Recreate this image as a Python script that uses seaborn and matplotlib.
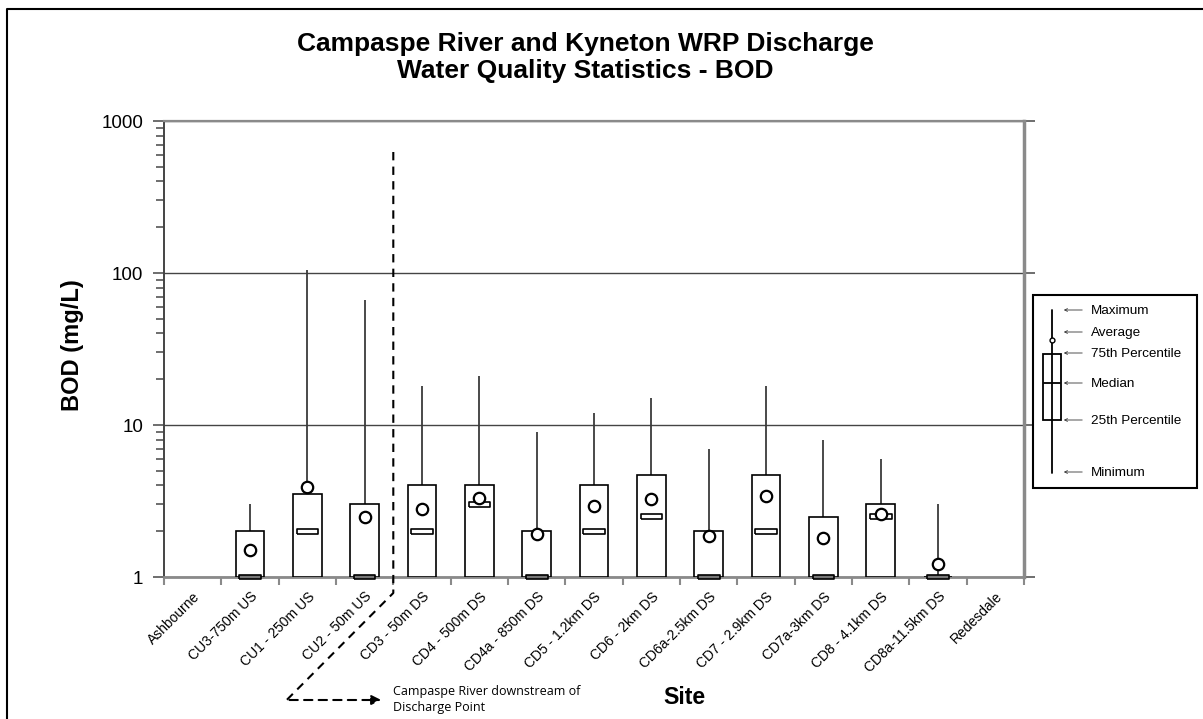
import numpy as np
import matplotlib
matplotlib.use("Agg")
import matplotlib.pyplot as plt
import matplotlib.ticker as mticker
from matplotlib.lines import Line2D
from matplotlib.patches import Rectangle, FancyArrowPatch
import seaborn as sns

# ---------------- data ----------------
sites = ["Ashbourne", "CU3-750m US", "CU1 - 250m US", "CU2 - 50m US", "CD3 - 50m DS",
         "CD4 - 500m DS", "CD4a - 850m DS", "CD5 - 1.2km DS", "CD6 - 2km DS",
         "CD6a-2.5km DS", "CD7 - 2.9km DS", "CD7a-3km DS", "CD8 - 4.1km DS",
         "CD8a-11.5km DS", "Redesdale"]
nan = np.nan
minimum = [nan, 1, 1, 1, 1, 1, 1, 1, 1, 1, 1, 1, 1, 1, nan]
q1 = [nan, 1, 1, 1, 1, 1, 1, 1, 1, 1, 1, 1, 1, 1, nan]
median = [nan, 1, 2, 1, 2, 3, 1, 2, 2.5, 1, 2, 1, 2.5, 1, nan]
q3 = [nan, 2, 3.5, 3, 4, 4, 2, 4, 4.7, 2, 4.7, 2.5, 3, 1, nan]
average = [nan, 1.5, 3.9, 2.5, 2.8, 3.3, 1.93, 2.95, 3.27, 1.87, 3.4, 1.8, 2.6, 1.22, nan]
maximum = [nan, 3, 105, 66, 18, 21, 9, 12, 15, 7, 18, 8, 6, 3, nan]
yticks = [1, 10, 100, 1000]
ytick_labels = ["1", "10", "100", "1000"]

# ---------------- style ----------------
sns.set_style("white")
plt.rcParams["font.family"] = ["Liberation Sans", "DejaVu Sans"]
plt.rcParams["text.color"] = "black"
plt.rcParams["axes.labelcolor"] = "black"
plt.rcParams["xtick.color"] = "black"
plt.rcParams["ytick.color"] = "black"

W, H = 1203, 719
fig = plt.figure(figsize=(W / 100, H / 100), dpi=100)
fig.patch.set_facecolor("white")


def fx(px):
    return px / W


def fy(py):
    return 1 - py / H


ax = fig.add_axes([fx(164), fy(577), (1024 - 164) / W, (577 - 121) / H])
ax.set_yscale("log")
ax.set_ylim(1, 1000)
ax.set_xlim(-0.5, len(sites) - 0.5)

x = np.arange(len(sites))
mn = np.array(minimum, float)
lo = np.array(q1, float)
md = np.array(median, float)
hi = np.array(q3, float)
av = np.array(average, float)
mx = np.array(maximum, float)
ok = ~np.isnan(lo)

# whiskers
ax.vlines(x[ok], hi[ok], mx[ok], color="#3a3a3a", lw=1.3, zorder=2)
ax.vlines(x[ok], mn[ok], lo[ok], color="#3a3a3a", lw=1.3, zorder=2)
# boxes
ax.bar(x[ok], hi[ok] - lo[ok], bottom=lo[ok], width=0.5, facecolor="white",
       edgecolor="black", linewidth=1.2, zorder=3)
# medians (small rectangles)
rect_marker = [(-1, -0.22), (1, -0.22), (1, 0.22), (-1, 0.22), (-1, -0.22)]
med_colors = ["#777777" if m <= l else "white" for m, l in zip(md[ok], lo[ok])]
ax.scatter(x[ok], md[ok], marker=rect_marker, s=15.6 ** 2, facecolor=med_colors,
           edgecolor="black", linewidth=1.2, zorder=4, clip_on=False)
# averages
sns.scatterplot(x=x[ok], y=av[ok], ax=ax, marker="o", s=8.2 ** 2, color="white",
                edgecolor="black", linewidth=1.6, zorder=5, legend=False, clip_on=False)

# grid & spines
ax.yaxis.grid(True, which="major", color="#444444", lw=1.0)
ax.xaxis.grid(False)
ax.set_axisbelow(True)
for s, c, w in [("left", "#444444", 1.4), ("bottom", "#8a8a8a", 2.0),
                ("right", "#8a8a8a", 2.5), ("top", "#8a8a8a", 1.6)]:
    ax.spines[s].set_visible(True)
    ax.spines[s].set_color(c)
    ax.spines[s].set_linewidth(w)

ax.yaxis.set_major_locator(mticker.FixedLocator(yticks))
ax.yaxis.set_major_formatter(mticker.FixedFormatter(ytick_labels))
ax.yaxis.set_minor_locator(mticker.LogLocator(base=10, subs=np.arange(2, 10)))
ax.yaxis.set_minor_formatter(mticker.NullFormatter())
ax.tick_params(axis="y", which="both", direction="out", length=6, width=1.2,
               color="#555555", labelcolor="black", labelsize=13.5, pad=7,
               left=True, right=False)
ax.tick_params(axis="y", which="major", right=True, length=8)

ax.set_xticks(x)
ax.set_xticklabels(sites, rotation=45, ha="right", rotation_mode="anchor", fontsize=10)
ax.set_xticks(np.arange(len(sites) + 1) - 0.5, minor=True)
ax.tick_params(axis="x", which="major", length=0, pad=9, bottom=True,
               labelcolor="black")
ax.tick_params(axis="x", which="minor", direction="out", length=6, width=1.5,
               color="#8a8a8a", bottom=True)
ax.set_xlabel("")
ax.set_ylabel("")

# titles & axis labels
fig.text(fx(585), fy(44), "Campaspe River and Kyneton WRP Discharge", ha="center",
         va="center", fontsize=19, fontweight="bold", color="black")
fig.text(fx(585), fy(71), "Water Quality Statistics - BOD", ha="center",
         va="center", fontsize=19, fontweight="bold", color="black")
fig.text(fx(72), fy(345), "BOD (mg/L)", rotation=90, ha="center", va="center",
         fontsize=17, fontweight="bold", color="black")
fig.text(fx(684), fy(698), "Site", ha="center", va="center", fontsize=16.7,
         fontweight="bold", color="black")

# discharge point annotation
fig.add_artist(Line2D([fx(393.3), fx(393.3), fx(286.7)], [fy(152), fy(593), fy(700)],
                      transform=fig.transFigure, color="black", lw=1.5,
                      linestyle=(0, (4, 3))))
fig.add_artist(FancyArrowPatch((fx(286.7), fy(700)), (fx(384), fy(700)),
                               transform=fig.transFigure, arrowstyle="-|>",
                               mutation_scale=14, color="black", lw=1.5,
                               linestyle=(0, (4, 3))))
fig.text(fx(393), fy(691), "Campaspe River downstream of",
         ha="left", va="center", fontsize=9, family=["Open Sans", "DejaVu Sans"])
fig.text(fx(393), fy(708), "Discharge Point",
         ha="left", va="center", fontsize=9, family=["Open Sans", "DejaVu Sans"])

# key box
fig.add_artist(Rectangle((fx(1033), fy(488)), (1197 - 1033) / W, (488 - 295) / H,
                         transform=fig.transFigure, facecolor="white",
                         edgecolor="black", lw=1.5))
fig.add_artist(Line2D([fx(1052), fx(1052)], [fy(310), fy(473)],
                      transform=fig.transFigure, color="black", lw=1.3))
fig.add_artist(Rectangle((fx(1043), fy(420)), (1061 - 1043) / W, (420 - 354) / H,
                         transform=fig.transFigure, facecolor="white",
                         edgecolor="black", lw=1.3))
fig.add_artist(Line2D([fx(1044), fx(1060)], [fy(383), fy(383)],
                      transform=fig.transFigure, color="black", lw=1.3))
fig.add_artist(Line2D([fx(1052)], [fy(340)], transform=fig.transFigure, marker="o",
                      markersize=3.5, markerfacecolor="white",
                      markeredgecolor="black", markeredgewidth=1))
key_items = [("Maximum", 310), ("Average", 332), ("75th Percentile", 353),
             ("Median", 383), ("25th Percentile", 420), ("Minimum", 472)]
for lab, py in key_items:
    fig.add_artist(FancyArrowPatch((fx(1085), fy(py)), (fx(1061), fy(py)),
                                   transform=fig.transFigure, arrowstyle="->",
                                   mutation_scale=5, color="#333333", lw=0.6))
    fig.text(fx(1091), fy(py + 1), lab, ha="left", va="center", fontsize=9.7,
             color="black")

# chart border (top & left)
fig.add_artist(Line2D([fx(7), fx(7), fx(1203)], [0, fy(9), fy(9)],
                      transform=fig.transFigure, color="black", lw=1.5))

fig.savefig("out.png", dpi=100, facecolor="white")
